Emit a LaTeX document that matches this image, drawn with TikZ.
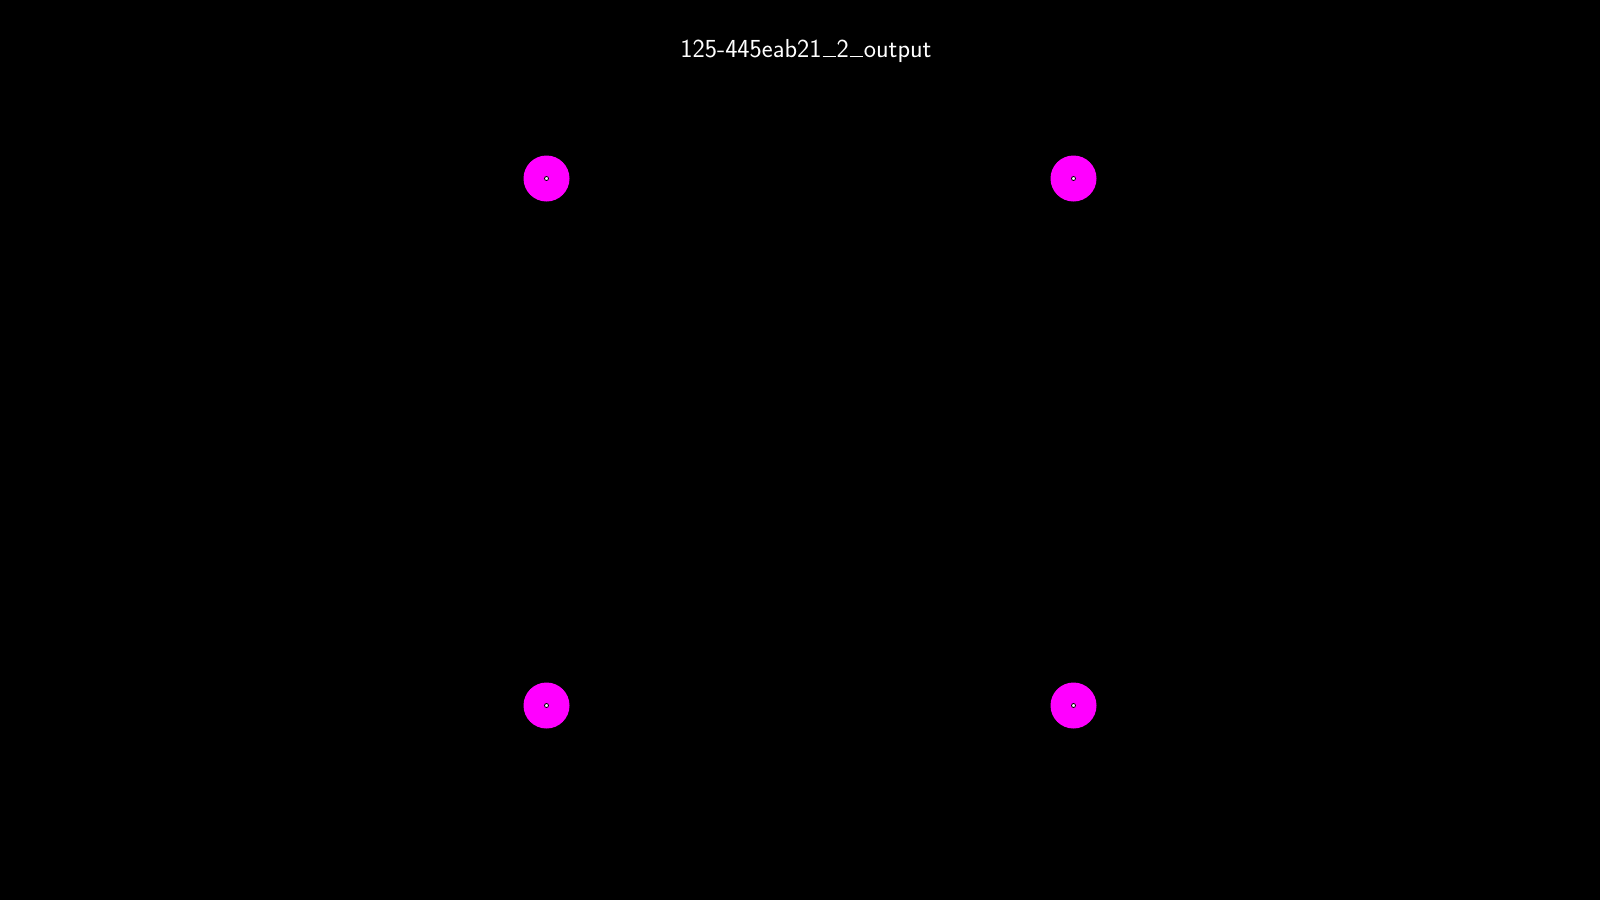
\documentclass[tikz,border=0pt]{standalone}
\usepackage{fontspec}
\newcommand{\ulbar}{\leavevmode\kern.04em\vbox{\hrule width .5em height .05em}\kern.04em}
\begin{document}
\begin{tikzpicture}[x=1pt,y=-1pt]
\tikzset{
  blob/.style={circle,fill={rgb,255:red,255;green,0;blue,255},minimum size=46pt,inner sep=0pt,draw=none},
  pin/.style={circle,fill=white,draw=black,line width=0.8pt,minimum size=4pt,inner sep=0pt},
  titletext/.style={text=white,font=\fontsize{26}{30}\selectfont\sffamily,inner sep=0pt}
}
\fill[black] (0,0) rectangle (1600,900);
\useasboundingbox (0,0) rectangle (1600,900);
\node[titletext] (title) at (806,51) {125-445eab21\ulbar 2\ulbar output};
\node[blob] (a) at (546.5,178.5) {};
\node[blob] (b) at (1073.5,178.5) {};
\node[blob] (c) at (546.5,705.5) {};
\node[blob] (d) at (1073.5,705.5) {};
\node[pin] (pa) at (a) {};
\node[pin] (pb) at (b) {};
\node[pin] (pc) at (c) {};
\node[pin] (pd) at (d) {};
\end{tikzpicture}
\end{document}
